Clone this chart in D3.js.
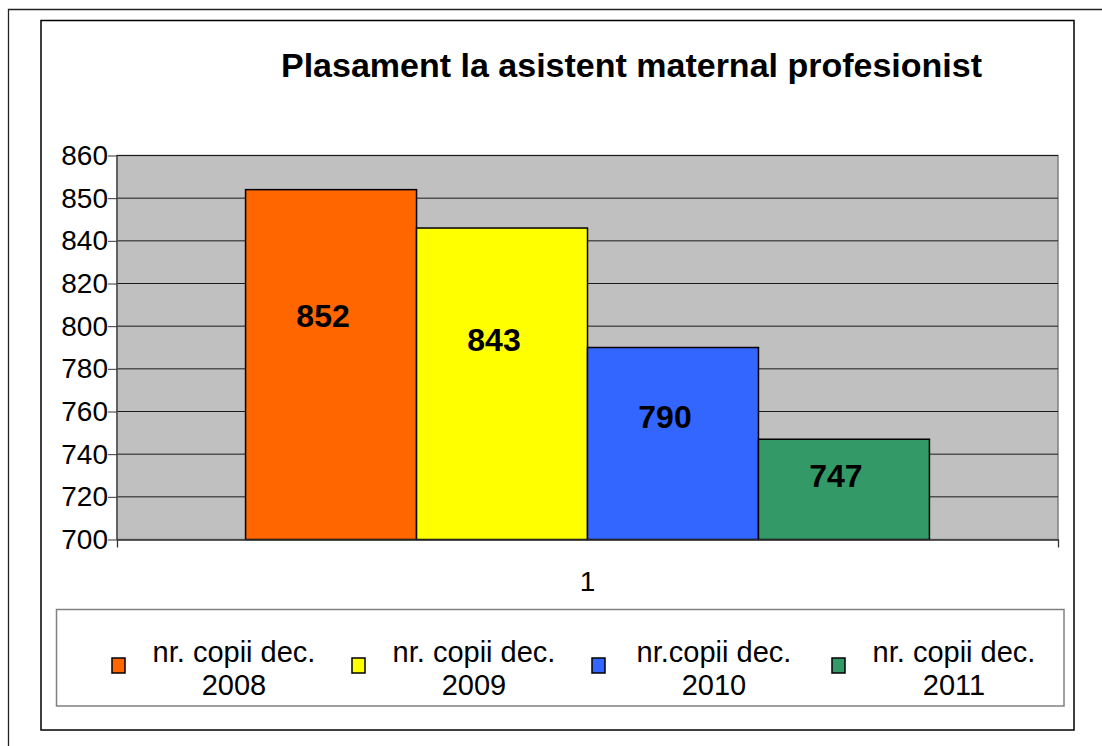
<!DOCTYPE html>
<html>
<head>
<meta charset="utf-8">
<script src="https://cdn.jsdelivr.net/npm/d3@7"></script>
<style>
  body { margin: 0; background: #fff; }
  svg { display: block; font-family: Arial, "Liberation Sans", sans-serif; }
</style>
</head>
<body>
<div id="chart"></div>
<script>
// Chart data
const title = "Plasament la asistent maternal profesionist";
const categories = ["1"];
const series = ["nr. copii dec. 2008", "nr. copii dec. 2009", "nr.copii dec. 2010", "nr. copii dec. 2011"];
const legendLines = [["nr. copii dec.", "2008"], ["nr. copii dec.", "2009"], ["nr.copii dec.", "2010"], ["nr. copii dec.", "2011"]];
const values = [852, 843, 790, 747];
const colors = ["#FF6600", "#FFFF00", "#3366FF", "#339966"];
const yTicks = [700, 720, 740, 760, 780, 800, 820, 840, 850, 860];

const width = 1102, height = 746;
const plot = {left: 117, right: 1058, top: 155.5, bottom: 539.5};

const svg = d3.select("#chart").append("svg")
    .attr("width", width)
    .attr("height", height);

// outer frame (only top/left visible)
svg.append("path")
    .attr("d", `M8.5,${height} V9.5 H${width}`)
    .attr("fill", "none")
    .attr("stroke", "#222")
    .attr("stroke-width", 1.3);

// chart area border
svg.append("rect")
    .attr("x", 41).attr("y", 20.5)
    .attr("width", 1033).attr("height", 709.5)
    .attr("fill", "#fff")
    .attr("stroke", "#000")
    .attr("stroke-width", 1.5);

// title
svg.append("text")
    .attr("x", 631.5).attr("y", 77)
    .attr("text-anchor", "middle")
    .attr("font-size", 34)
    .attr("font-weight", "bold")
    .text(title);

// scales - the axis labels are evenly spaced, so use a polylinear scale
const y = d3.scaleLinear()
    .domain(yTicks)
    .range(yTicks.map((d, i) => plot.bottom - i * (plot.bottom - plot.top) / (yTicks.length - 1)));

const x0 = d3.scaleBand()
    .domain(categories)
    .range([plot.left, plot.right])
    .paddingInner(0)
    .paddingOuter(0.188);

const x1 = d3.scaleBand()
    .domain(series)
    .range([0, x0.bandwidth()]);

// plot background
svg.append("rect")
    .attr("x", plot.left).attr("y", plot.top)
    .attr("width", plot.right - plot.left)
    .attr("height", plot.bottom - plot.top)
    .attr("fill", "#C0C0C0")
    .attr("stroke", "#808080")
    .attr("stroke-width", 1.5);

// gridlines
svg.append("g")
    .selectAll("line")
    .data(yTicks.slice(1))
    .join("line")
    .attr("x1", plot.left).attr("x2", plot.right)
    .attr("y1", d => y(d)).attr("y2", d => y(d))
    .attr("stroke", "#1a1a1a")
    .attr("stroke-width", 1);

// bars
const group = svg.append("g")
    .selectAll("g")
    .data(categories)
    .join("g")
    .attr("transform", d => `translate(${x0(d)},0)`);

group.selectAll("rect")
    .data(series.map((s, i) => ({s, v: values[i], c: colors[i]})))
    .join("rect")
    .attr("x", d => x1(d.s))
    .attr("y", d => y(d.v))
    .attr("width", x1.bandwidth())
    .attr("height", d => y(700) - y(d.v))
    .attr("fill", d => d.c)
    .attr("stroke", "#000")
    .attr("stroke-width", 1.5);

// value labels
group.selectAll("text")
    .data(series.map((s, i) => ({s, v: values[i]})))
    .join("text")
    .attr("x", d => x1(d.s) + x1.bandwidth() / 2 - 8)
    .attr("y", d => y(d.v) + 0.36 * (y(700) - y(d.v)))
    .attr("dy", "0.35em")
    .attr("text-anchor", "middle")
    .attr("font-size", 32)
    .attr("font-weight", "bold")
    .text(d => d.v);

// y axis
const yAxis = svg.append("g")
    .attr("transform", `translate(${plot.left},0)`)
    .call(d3.axisLeft(y).tickValues(yTicks).tickSize(9).tickPadding(0).tickFormat(d3.format("d")));
yAxis.select(".domain").remove();
yAxis.selectAll(".tick line").attr("stroke", "#333");
yAxis.selectAll("text").attr("font-size", 28).attr("fill", "#000")
    .attr("font-family", "Arial, 'Liberation Sans', sans-serif");
svg.append("line")
    .attr("x1", plot.left).attr("x2", plot.left)
    .attr("y1", plot.top).attr("y2", plot.bottom)
    .attr("stroke", "#444").attr("stroke-width", 1.3);

// x axis
const xAxis = svg.append("g")
    .attr("transform", `translate(0,${plot.bottom})`)
    .call(d3.axisBottom(x0).tickSizeInner(0).tickSizeOuter(8).tickPadding(32));
xAxis.select(".domain").attr("stroke", "#333").attr("stroke-width", 1.3);
xAxis.selectAll("text").attr("font-size", 28).attr("fill", "#000")
    .attr("font-family", "Arial, 'Liberation Sans', sans-serif");

// legend
const legendBox = {x: 56.5, y: 609.5, w: 1007.5, h: 96.5};
svg.append("rect")
    .attr("x", legendBox.x).attr("y", legendBox.y)
    .attr("width", legendBox.w).attr("height", legendBox.h)
    .attr("fill", "#fff")
    .attr("stroke", "#808080")
    .attr("stroke-width", 1.5);

const lx = d3.scaleBand()
    .domain(series)
    .range([112, 1072]);

const item = svg.append("g")
    .selectAll("g")
    .data(series.map((s, i) => ({s, c: colors[i], lines: legendLines[i]})))
    .join("g")
    .attr("transform", d => `translate(${lx(d.s)},0)`);

item.append("rect")
    .attr("x", 0).attr("y", 658)
    .attr("width", 13).attr("height", 15)
    .attr("fill", d => d.c)
    .attr("stroke", "#000")
    .attr("stroke-width", 1.5);

item.append("text")
    .attr("text-anchor", "middle")
    .attr("font-size", 29)
    .selectAll("tspan")
    .data(d => d.lines)
    .join("tspan")
    .attr("x", 122)
    .attr("y", (d, i) => 662 + i * 32.5)
    .text(d => d);
</script>
</body>
</html>
